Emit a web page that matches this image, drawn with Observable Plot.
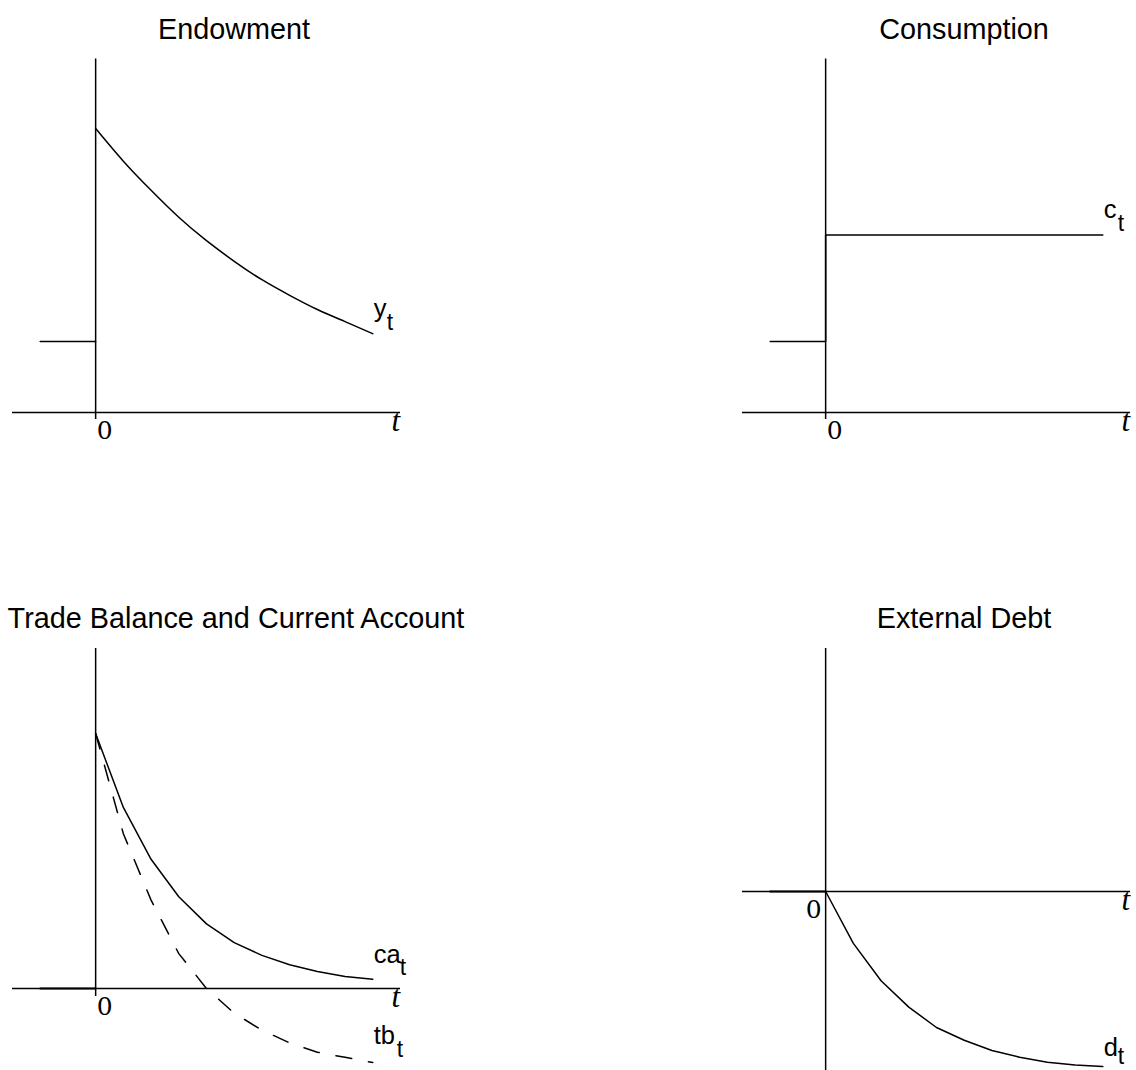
<!DOCTYPE html>
<html>
<head>
<meta charset="utf-8">
<script src="https://cdn.jsdelivr.net/npm/d3@7"></script>
<script src="https://cdn.jsdelivr.net/npm/@observablehq/plot@0.6"></script>
<style>
  body { margin: 0; background: #fff; }
  #fig { position: relative; width: 1136px; height: 1070px; overflow: hidden; background: #fff;
         font-family: "Liberation Sans", Arial, Helvetica, sans-serif; }
  .title { position: absolute; font-size: 28.8px; line-height: 28px; white-space: nowrap;
           transform: translateX(-50%); color: #000; }
  #fig svg { position: absolute; }
</style>
</head>
<body>
<div id="fig"></div>
<script>
// Periods after the shock, and the pre-shock stretch drawn to the left of t = 0
const periods = [0, 1, 2, 3, 4, 5, 6, 7, 8, 9, 10];
const prePeriods = [-2, 0];

// Endowment: steady level before the shock, then a decaying path
const endowmentBefore = 1;
const endowment = [4.0, 3.54, 3.13, 2.75, 2.42, 2.13, 1.87, 1.65, 1.45, 1.28, 1.11];

// Consumption jumps once to its new permanent level
const consumptionBefore = 1;
const consumptionAfter = 2.5;

// Current account and trade balance
const currentAccount = [3.0, 2.13, 1.52, 1.08, 0.76, 0.54, 0.39, 0.28, 0.20, 0.14, 0.11];
const tradeBalance = [3.0, 1.82, 1.04, 0.41, 0.0, -0.29, -0.49, -0.64, -0.75, -0.81, -0.87];
const balanceBefore = 0;

// External debt
const externalDebt = [0, -0.61, -1.05, -1.36, -1.60, -1.75, -1.87, -1.95, -2.01, -2.04, -2.06];
const debtBefore = 0;

// Text
const titles = ["Endowment", "Consumption", "Trade Balance and Current Account", "External Debt"];
const seriesNames = ["y", "c", "ca", "tb", "d"];
const subscript = "t";
const timeLabel = "t";
const originLabel = "0";

const fig = document.getElementById("fig");
const sans = "Liberation Sans, Arial, Helvetica, sans-serif";
const serif = "Liberation Serif, Times New Roman, serif";
const digitSerif = "DejaVu Serif, Liberation Serif, serif";
const ink = "#000";
const lw = 1.5;

const pts = (xs, ys) => xs.map((t, i) => ({t, v: ys[i]}));

function addTitle(text, cx, baseline) {
  const d = document.createElement("div");
  d.className = "title";
  d.textContent = text;
  d.style.left = cx + "px";
  d.style.top = (baseline - 23.7) + "px";
  fig.appendChild(d);
}

// Axes drawn as rules crossing at the origin, plus "0" and italic "t" labels
function axes(yLo, yHi, zeroSide) {
  return [
    Plot.ruleY([{v: 0, x1: -3, x2: 11}], {y: "v", x1: "x1", x2: "x2", stroke: ink, strokeWidth: lw}),
    Plot.ruleX([{t: 0, y1: yLo, y2: yHi}], {x: "t", y1: "y1", y2: "y2", stroke: ink, strokeWidth: lw}),
    Plot.text([{t: 0, v: 0}], {x: "t", y: "v", text: () => originLabel, fontFamily: digitSerif, fontSize: 25,
      textAnchor: zeroSide === "left" ? "end" : "start", dx: zeroSide === "left" ? -4 : 1, dy: 26,
      lineAnchor: "bottom", fill: ink}),
    Plot.text([{t: 11, v: 0}], {x: "t", y: "v", text: () => timeLabel, fontFamily: serif, fontStyle: "italic",
      fontSize: 31, textAnchor: "start", dx: -9, dy: 18, lineAnchor: "bottom", fill: ink})
  ];
}

// Series name with a lowered "t" next to it, placed off the last point
function seriesLabel(t, v, name, dx, dy, subDx, subDy) {
  return [
    Plot.text([{t, v}], {x: "t", y: "v", text: () => name, fontFamily: sans, fontSize: 25.5,
      textAnchor: "start", lineAnchor: "bottom", dx, dy, fill: ink}),
    Plot.text([{t, v}], {x: "t", y: "v", text: () => subscript, fontFamily: sans, fontSize: 23,
      textAnchor: "start", lineAnchor: "bottom", dx: subDx, dy: subDy, fill: ink})
  ];
}

function panel({left, top, width, height, yDomain, yRange, marks}) {
  const svg = Plot.plot({
    width, height,
    margin: 0,
    x: {domain: [-3, 11], range: [12, 400], axis: null},
    y: {domain: yDomain, range: yRange, axis: null},
    style: {background: "transparent", overflow: "visible"},
    marks
  });
  svg.style.left = left + "px";
  svg.style.top = top + "px";
  fig.appendChild(svg);
}

const last = periods[periods.length - 1];

// Endowment
addTitle(titles[0], 234, 39);
panel({
  left: 0, top: 48, width: 420, height: 400,
  yDomain: [0, 5], yRange: [364, 9],
  marks: [
    ...axes(-0.1, 4.98, "right"),
    Plot.line(pts(prePeriods, [endowmentBefore, endowmentBefore]), {x: "t", y: "v", stroke: ink, strokeWidth: lw}),
    Plot.line(pts(periods, endowment), {x: "t", y: "v", stroke: ink, strokeWidth: lw, curve: "natural"}),
    ...seriesLabel(last, endowment[10], seriesNames[0], 1, -17, 14, -4)
  ]
});

// Consumption
addTitle(titles[1], 964, 39);
panel({
  left: 730, top: 48, width: 406, height: 400,
  yDomain: [0, 5], yRange: [364, 9],
  marks: [
    ...axes(-0.1, 4.98, "right"),
    Plot.line(pts([prePeriods[0], 0, 0, last], [consumptionBefore, consumptionBefore, consumptionAfter, consumptionAfter]),
      {x: "t", y: "v", stroke: ink, strokeWidth: lw}),
    ...seriesLabel(last, consumptionAfter, seriesNames[1], 1, -17, 15, -4)
  ]
});

// Trade balance and current account
addTitle(titles[2], 236, 628);
panel({
  left: 0, top: 636, width: 420, height: 434,
  yDomain: [-1, 4], yRange: [437, 12],
  marks: [
    ...axes(-0.094, 4, "right"),
    Plot.line(pts(prePeriods, [balanceBefore, balanceBefore]), {x: "t", y: "v", stroke: ink, strokeWidth: lw + 0.6}),
    Plot.line(pts(periods, currentAccount), {x: "t", y: "v", stroke: ink, strokeWidth: lw}),
    Plot.line(pts(periods, tradeBalance), {x: "t", y: "v", stroke: ink, strokeWidth: lw, strokeDasharray: "16,17"}),
    ...seriesLabel(last, currentAccount[10], seriesNames[2], 1, -16, 27, -4),
    ...seriesLabel(last, tradeBalance[10], seriesNames[3], 1, -18, 24, -5)
  ]
});

// External debt
addTitle(titles[3], 964, 628);
panel({
  left: 730, top: 636, width: 406, height: 434,
  yDomain: [-2, 2], yRange: [425, 85],
  marks: [
    ...axes(-2.11, 2.86, "left"),
    Plot.line(pts(prePeriods, [debtBefore, debtBefore]), {x: "t", y: "v", stroke: ink, strokeWidth: lw + 0.6}),
    Plot.line(pts(periods, externalDebt), {x: "t", y: "v", stroke: ink, strokeWidth: lw}),
    ...seriesLabel(last, externalDebt[10], seriesNames[4], 1, -11, 15, -3)
  ]
});
</script>
</body>
</html>
